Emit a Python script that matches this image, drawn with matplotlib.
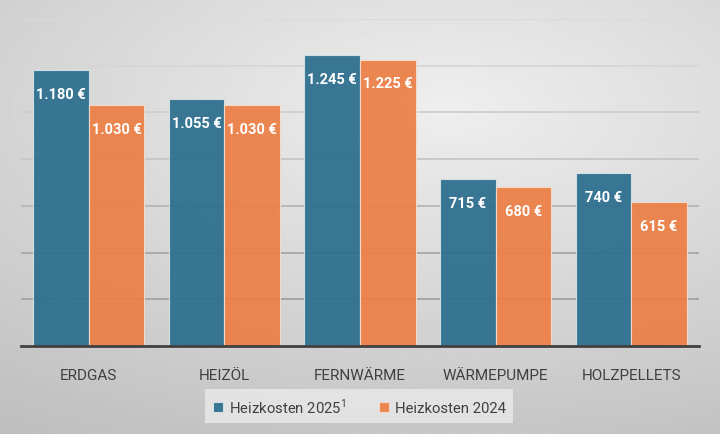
import matplotlib
matplotlib.use("Agg")
import matplotlib.pyplot as plt
import numpy as np

plt.rcParams['font.family'] = ['Roboto', 'DejaVu Sans']
plt.rcParams['mathtext.fontset'] = 'custom'
plt.rcParams['mathtext.rm'] = 'Roboto'

categories = ["ERDGAS", "HEIZÖL", "FERNWÄRME", "WÄRMEPUMPE", "HOLZPELLETS"]
kosten_2025 = [1180, 1055, 1245, 715, 740]
kosten_2024 = [1030, 1030, 1225, 680, 615]
series_names = ["Heizkosten 2025$^{\\mathrm{1}}$", "Heizkosten 2024"]

grid_values = [200, 400, 600, 800, 1000, 1200, 1400]
grid_colors = ["#A2A2A2", "#A8A8A8", "#B6B6B6", "#C6C6C6", "#CECECE", "#D6D6D6", "#DADADA"]

teal = "#2C6E8E"
orange = "#EC7F45"

fig = plt.figure(figsize=(7.2, 4.35), dpi=100)

# gradient background
bg = fig.add_axes([0, 0, 1, 1], zorder=-10)
yy, xx = np.mgrid[0:1:200j, 0:1:300j]
dist = np.sqrt(((xx - 0.62) / 1.0) ** 2 + ((yy - 0.25) / 0.8) ** 2)
shade = 0.935 - 0.17 * dist
bg.imshow(shade, cmap="gray", vmin=0, vmax=1, aspect="auto",
          extent=[0, 1, 1, 0], interpolation="bilinear")
bg.set_xlim(0, 1)
bg.set_ylim(1, 0)
bg.axis("off")

ax = fig.add_axes([0.029, 0.2023, 0.942, 0.752])
ax.set_facecolor("none")

for gv, gc in zip(grid_values, grid_colors):
    ax.axhline(gv, color=gc, linewidth=1.3, zorder=1)

x = np.arange(len(categories))
w = 0.41
b1 = ax.bar(x - w / 2, kosten_2025, w, color=teal, alpha=0.93,
            edgecolor="#d6e4ea", linewidth=0.8, zorder=3, label=series_names[0])
b2 = ax.bar(x + w / 2, kosten_2024, w, color=orange, alpha=0.93,
            edgecolor="#f8dccb", linewidth=0.8, zorder=3, label=series_names[1])

def fmt(v):
    return f"{v:,}".replace(",", ".") + " €"

for bars, vals in ((b1, kosten_2025), (b2, kosten_2024)):
    for rect, v in zip(bars, vals):
        ax.annotate(fmt(v), (rect.get_x() + rect.get_width() / 2, v),
                    xytext=(0, -17), textcoords="offset points",
                    ha="center", va="center", color="white",
                    fontsize=10.5, fontweight="bold", zorder=5)

ax.set_xlim(-0.5, len(categories) - 0.5)
ax.set_ylim(0, 1400)
ax.set_yticks([])
ax.tick_params(axis="x", bottom=False, pad=12, labelsize=11, labelcolor="#404040")
ax.set_xticks(x)
ax.set_xticklabels(categories)
for s in ("top", "right", "left"):
    ax.spines[s].set_visible(False)
ax.spines["bottom"].set_color("#404040")
ax.spines["bottom"].set_linewidth(2)
ax.spines["bottom"].set_zorder(4)

leg = fig.legend(handles=[b1, b2], labels=series_names, loc="center",
                 bbox_to_anchor=(0.499, 0.064), ncol=2, frameon=True,
                 fontsize=10.7, handlelength=0.7, handleheight=0.7,
                 handletextpad=0.4, columnspacing=2.2, borderpad=0.5,
                 borderaxespad=0, fancybox=False, labelcolor="#404040")
leg.get_frame().set_facecolor("#E6E6E6")
leg.get_frame().set_edgecolor("none")
leg.get_frame().set_alpha(0.9)
for t in leg.get_texts():
    t.set_fontsize(10.7)

fig.savefig("out.png", dpi=100)
